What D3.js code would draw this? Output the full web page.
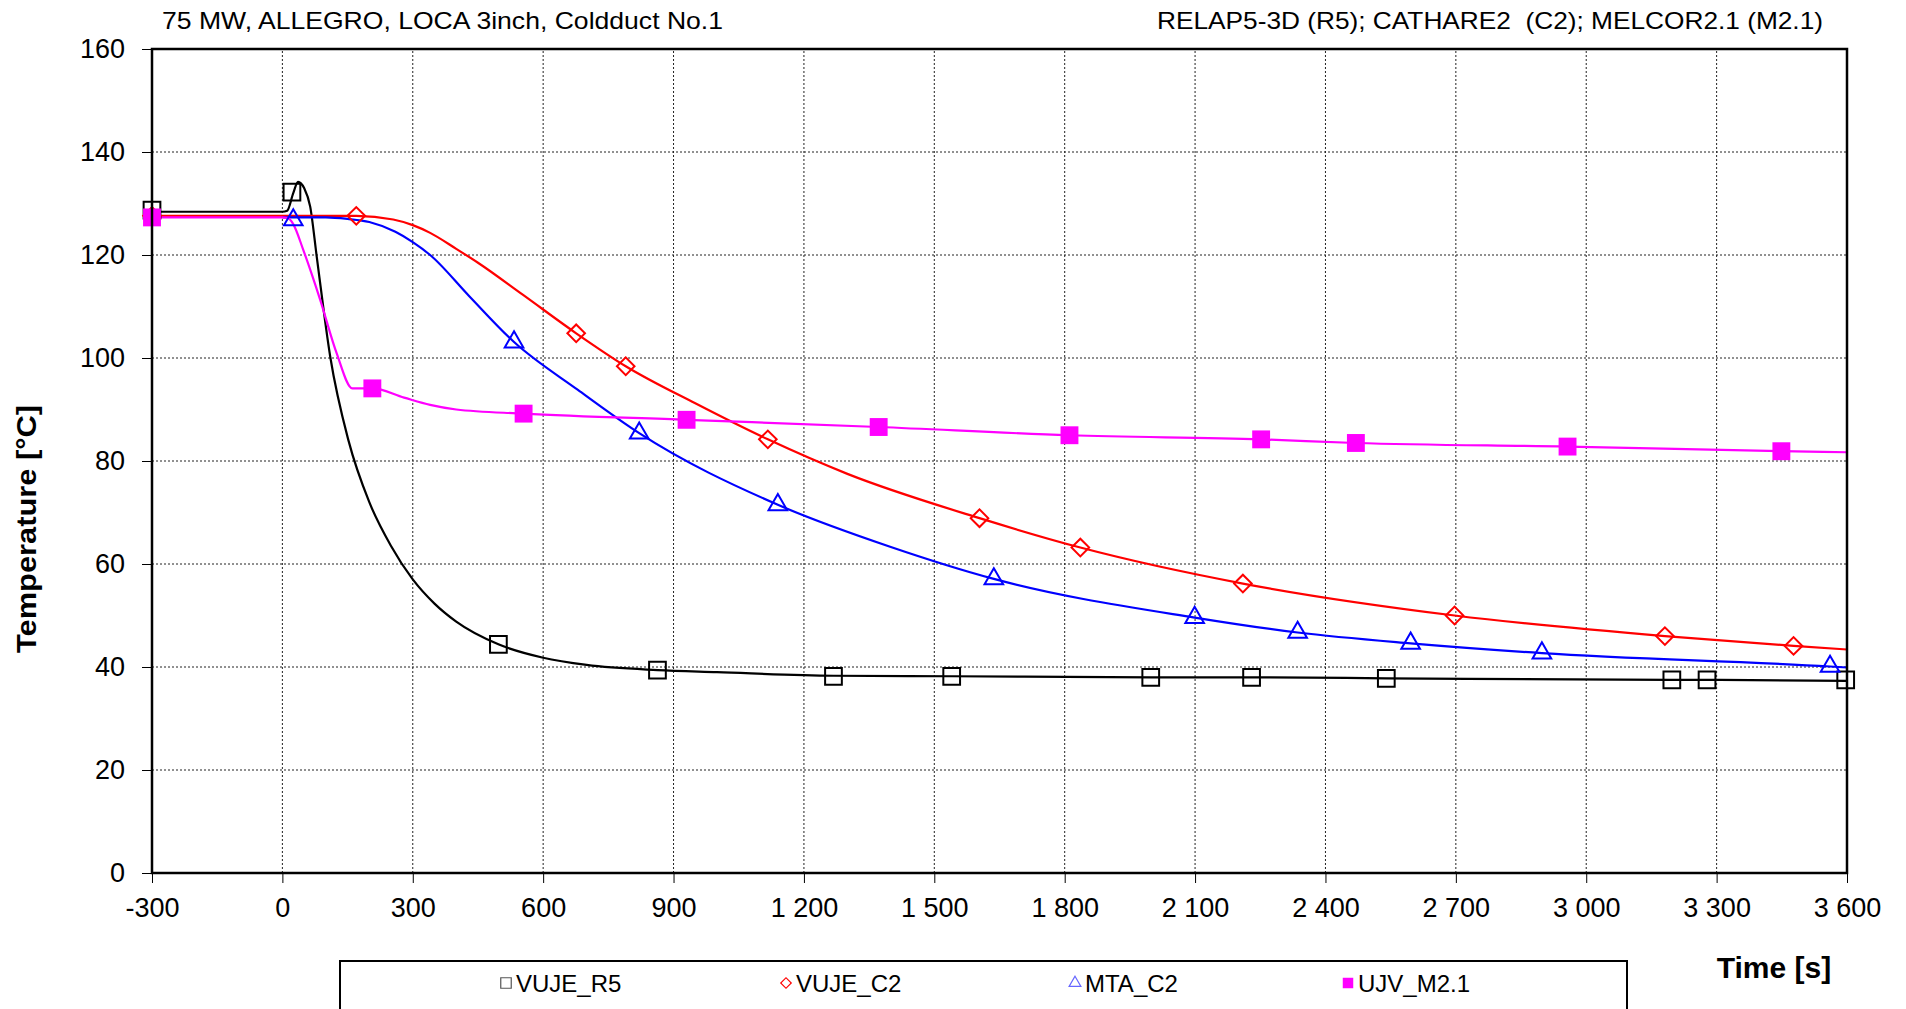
<!DOCTYPE html>
<html>
<head>
<meta charset="utf-8">
<script src="https://cdn.jsdelivr.net/npm/d3@7"></script>
<style>
  body { margin: 0; background: #fff; }
  text { font-family: "Liberation Sans", Arial, sans-serif; fill: #000; }
</style>
</head>
<body>
<svg id="chart" width="1906" height="1009"></svg>
<script>
// axis ticks
const timeTicks = [-300, 0, 300, 600, 900, 1200, 1500, 1800, 2100, 2400, 2700, 3000, 3300, 3600];
const tempTicks = [0, 20, 40, 60, 80, 100, 120, 140, 160];

const seriesNames = ["VUJE_R5", "VUJE_C2", "MTA_C2", "UJV_M2.1"];

// VUJE_R5 (RELAP5-3D)
const r5LineT = [-300, 0, 11, 25, 36, 50, 64, 79, 110, 152, 200, 250, 300, 350, 400, 497, 600, 700, 863, 1000, 1268, 1540, 2000, 2230, 2540, 3197, 3278, 3600];
const r5LineY = [128.4, 128.4, 128.6, 132, 134.2, 133, 129.4, 119.7, 100.3, 84, 72, 63.5, 57, 52.3, 48.8, 44.4, 41.8, 40.4, 39.4, 39, 38.3, 38.2, 38, 38, 37.8, 37.5, 37.5, 37.3];
const r5MarkT = [-300, 22, 497, 863, 1268, 1540, 1998, 2230, 2540, 3197, 3278, 3597];
const r5MarkY = [128.7, 132.2, 44.4, 39.4, 38.2, 38.2, 38.0, 38.0, 37.8, 37.5, 37.5, 37.5];

// VUJE_C2 (CATHARE2)
const c2LineT = [-300, 0, 170, 255, 300, 340, 400, 450, 553, 676, 790, 950, 1117, 1300, 1604, 1836, 2210, 2697, 3181, 3477, 3600];
const c2LineY = [127.6, 127.6, 127.6, 126.9, 125.8, 124.3, 121.2, 118.5, 112.3, 104.8, 98.4, 91.2, 84.2, 77.5, 68.9, 63.2, 56.2, 50, 46, 44.1, 43.4];
const c2MarkT = [-300, 170, 676, 790, 1117, 1604, 1836, 2210, 2697, 3181, 3477];
const c2MarkY = [127.6, 127.6, 104.8, 98.4, 84.2, 68.9, 63.2, 56.2, 50.0, 46.0, 44.1];

// MTA_C2 (CATHARE2)
const mtaLineT = [0, 25, 100, 150, 200, 260, 300, 340, 430, 533, 680, 821, 1140, 1400, 1637, 2099, 2336, 2596, 2898, 3561, 3600];
const mtaLineY = [127.3, 127.3, 127.3, 127, 126.4, 124.5, 122.5, 120, 112, 103.1, 93.8, 85.4, 71.5, 63.3, 57.1, 49.6, 46.7, 44.6, 42.7, 40.1, 39.9];
const mtaMarkT = [25, 533, 821, 1140, 1637, 2099, 2336, 2596, 2898, 3561];
const mtaMarkY = [126.8, 103.1, 85.4, 71.5, 57.1, 49.6, 46.7, 44.6, 42.7, 40.1];

// UJV_M2.1 (MELCOR2.1)
const ujvLineT = [-300, 0, 12, 25, 48, 87, 125, 161, 207, 280, 340, 400, 555, 930, 1372, 1811, 2252, 2470, 2957, 3449, 3600];
const ujvLineY = [127.3, 127.3, 127.2, 126, 121, 111.3, 100.9, 94.1, 94.1, 92.3, 90.9, 90, 89.2, 88, 86.6, 85, 84.2, 83.5, 82.8, 81.9, 81.7];
const ujvMarkT = [-300, 207, 555, 930, 1372, 1811, 2252, 2470, 2957, 3449];
const ujvMarkY = [127.3, 94.1, 89.2, 88.0, 86.6, 85.0, 84.2, 83.5, 82.8, 81.9];

const zip = (ts, ys) => ts.map((t, i) => ({ t: t, v: ys[i] }));

const series = [
  { name: seriesNames[0], color: "#000000", line: zip(r5LineT, r5LineY), marks: zip(r5MarkT, r5MarkY),
    symbol: d3.symbolSquare, size: 280, rotate: 0, filled: false },
  { name: seriesNames[1], color: "#ff0000", line: zip(c2LineT, c2LineY), marks: zip(c2MarkT, c2MarkY),
    symbol: d3.symbolSquare, size: 155, rotate: 45, filled: false },
  { name: seriesNames[2], color: "#0000ff", line: zip(mtaLineT, mtaLineY), marks: zip(mtaMarkT, mtaMarkY),
    symbol: d3.symbolTriangle, size: 150, rotate: 0, filled: false },
  { name: seriesNames[3], color: "#ff00ff", line: zip(ujvLineT, ujvLineY), marks: zip(ujvMarkT, ujvMarkY),
    symbol: d3.symbolSquare, size: 320, rotate: 0, filled: true }
];

const margin = { top: 49, right: 59, bottom: 136, left: 152 };
const W = 1906, H = 1009;

const svg = d3.select("#chart");
svg.append("rect").attr("width", W).attr("height", H).attr("fill", "#fff");

const x = d3.scaleLinear().domain([-300, 3600]).range([margin.left, W - margin.right]);
const y = d3.scaleLinear().domain([0, 160]).range([H - margin.bottom, margin.top]);

const loc = d3.formatLocale({ decimal: ".", thousands: " ", grouping: [3], currency: ["", ""], minus: "-" });
const fmtTime = loc.format(",");

// grid
const grid = svg.append("g").attr("class", "grid");
grid.selectAll("line.gx")
  .data(timeTicks.slice(1, -1))
  .enter()
  .append("line")
  .attr("x1", (d) => x(d)).attr("x2", (d) => x(d))
  .attr("y1", y(0)).attr("y2", y(160))
  .attr("stroke", "#222").attr("stroke-width", 1).attr("stroke-dasharray", "2,2");
grid.selectAll("line.gy")
  .data(tempTicks.slice(1, -1))
  .enter()
  .append("line")
  .attr("x1", x(-300)).attr("x2", x(3600))
  .attr("y1", (d) => y(d)).attr("y2", (d) => y(d))
  .attr("stroke", "#222").attr("stroke-width", 1).attr("stroke-dasharray", "2,2");

// axes
const xAxis = svg.append("g")
  .attr("transform", "translate(0," + y(0) + ")")
  .call(d3.axisBottom(x).tickValues(timeTicks).tickFormat(fmtTime).tickSize(10).tickPadding(15));
const yAxis = svg.append("g")
  .attr("transform", "translate(" + x(-300) + ",0)")
  .call(d3.axisLeft(y).tickValues(tempTicks).tickSize(10).tickPadding(17));
[xAxis, yAxis].forEach((a) => {
  a.select(".domain").remove();
  a.selectAll(".tick line").attr("stroke", "#000").attr("stroke-width", 1);
  a.selectAll(".tick text").style("font-size", "27px").attr("fill", "#000");
});

// lines and markers
const line = d3.line()
  .x((d) => x(d.t))
  .y((d) => y(d.v))
  .curve(d3.curveMonotoneX);

series.forEach((s) => {
  svg.append("path")
    .datum(s.line)
    .attr("d", line)
    .attr("fill", "none")
    .attr("stroke", s.color)
    .attr("stroke-width", 2.2);
});

series.forEach((s) => {
  svg.append("g")
    .selectAll("path")
    .data(s.marks)
    .enter()
    .append("path")
    .attr("d", d3.symbol().type(s.symbol).size(s.size))
    .attr("transform", (d) => "translate(" + x(d.t) + "," + y(d.v) + ") rotate(" + s.rotate + ")")
    .attr("fill", s.filled ? s.color : "none")
    .attr("stroke", s.filled ? "none" : s.color)
    .attr("stroke-width", 2);
});

// plot frame
svg.append("rect")
  .attr("x", x(-300)).attr("y", y(160))
  .attr("width", x(3600) - x(-300)).attr("height", y(0) - y(160))
  .attr("fill", "none").attr("stroke", "#000").attr("stroke-width", 2.5);

// titles
svg.append("text")
  .attr("x", 162).attr("y", 29)
  .attr("textLength", 561).attr("lengthAdjust", "spacingAndGlyphs")
  .style("font-size", "24px")
  .text("75 MW, ALLEGRO, LOCA 3inch, Coldduct No.1");

svg.append("text")
  .attr("x", 1157).attr("y", 29)
  .attr("textLength", 666).attr("lengthAdjust", "spacingAndGlyphs")
  .style("font-size", "24px").style("white-space", "pre")
  .text("RELAP5-3D (R5); CATHARE2  (C2); MELCOR2.1 (M2.1)");

svg.append("text")
  .attr("transform", "translate(36,529) rotate(-90)")
  .attr("text-anchor", "middle")
  .attr("textLength", 248).attr("lengthAdjust", "spacingAndGlyphs")
  .style("font-size", "28px").style("font-weight", "bold")
  .text("Temperature [°C]");

svg.append("text")
  .attr("x", 1774).attr("y", 978)
  .attr("text-anchor", "middle")
  .style("font-size", "30px").style("font-weight", "bold")
  .text("Time [s]");

// legend
const legendX = [506, 786, 1075, 1348];
svg.append("rect")
  .attr("x", 340).attr("y", 961)
  .attr("width", 1287).attr("height", 60)
  .attr("fill", "#fff").attr("stroke", "#000").attr("stroke-width", 2);

const legend = svg.selectAll(".legend")
  .data(series)
  .enter()
  .append("g")
  .attr("class", "legend")
  .attr("transform", (d, i) => "translate(" + legendX[i] + ",983)");

legend.append("path")
  .attr("d", (d) => d3.symbol().type(d.symbol).size(d.symbol === d3.symbolTriangle ? 60 : (d.rotate ? 55 : 110))())
  .attr("transform", (d) => "rotate(" + d.rotate + ")")
  .attr("fill", (d) => d.filled ? d.color : "none")
  .attr("stroke", (d) => d.filled ? "none" : (d.color === "#000000" ? "#555" : d.color === "#0000ff" ? "#6666ff" : d.color))
  .attr("stroke-width", 1.2);

legend.append("text")
  .attr("x", 10)
  .attr("y", 9)
  .style("font-size", "24px")
  .text((d) => d.name);
</script>
</body>
</html>
